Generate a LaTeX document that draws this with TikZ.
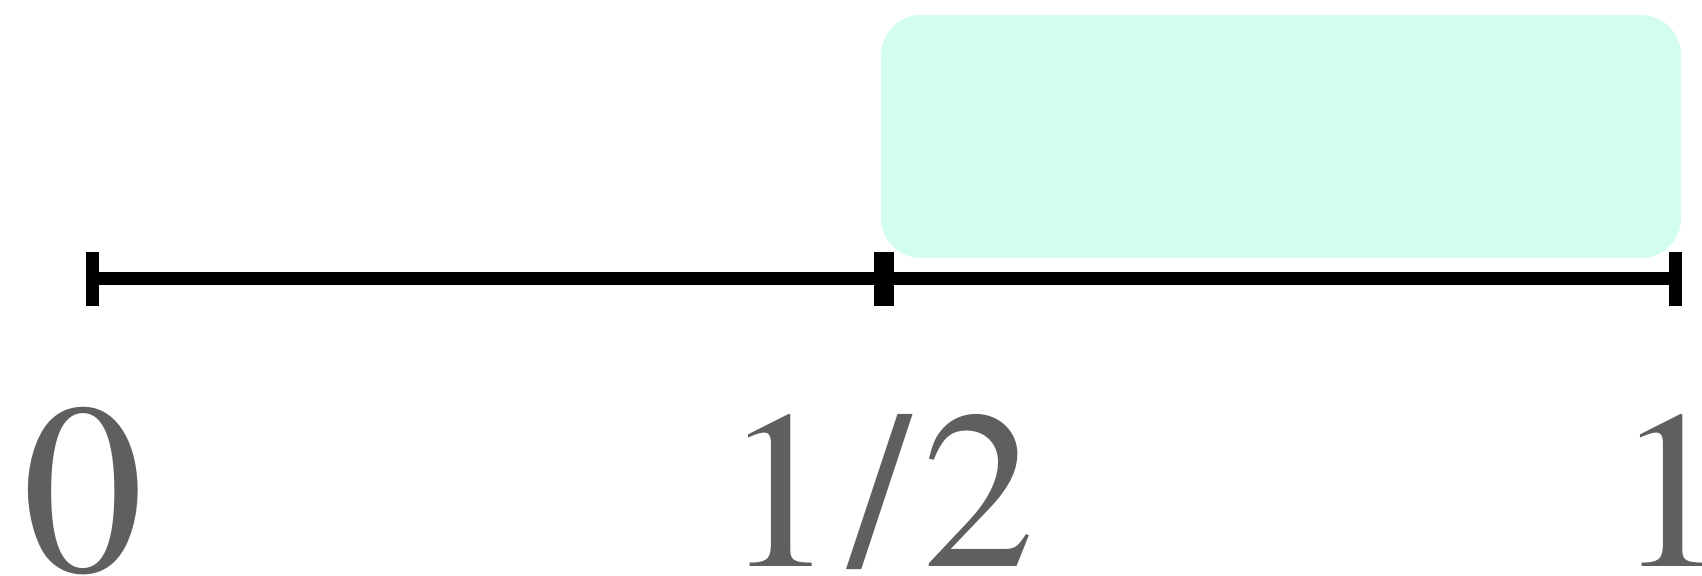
\documentclass[tikz,border=0pt]{standalone}
\definecolor{mint}{HTML}{D3FDEF}
\definecolor{labelgray}{HTML}{5F5F5F}
\newcommand{\timesfont}{\usefont{OT1}{ptm}{m}{n}}
\tikzset{
  axisline/.style={line width=6.5pt, line cap=butt},
  tickmark/.style={line width=6.5pt, line cap=butt},
  hlbox/.style={fill=mint, draw=none, rounded corners=20pt, minimum width=400pt, minimum height=121.5pt, inner sep=0pt},
  lbl/.style={text=labelgray, inner sep=0pt, anchor=base west},
}
\begin{document}
\begin{tikzpicture}[x=0.5pt, y=-0.5pt]
\useasboundingbox (0,0) rectangle (1702,576);
% highlighted box
\node[hlbox] (hl) at (1281,136.5) {};
% tick positions
\coordinate (p0) at (92.5,278.6);
\coordinate (ha) at (880,278.6);
\coordinate (hb) at (887.5,278.6);
\coordinate (p1) at (1675,278.6);
% axis
\draw[axisline] (p0) -- (ha);
\draw[axisline] (hb) -- (p1);
\foreach \c in {p0,ha,hb,p1}
  \draw[tickmark] ([yshift=13.5pt]\c) -- ([yshift=-13.5pt]\c);
% labels
\node[lbl, font=\timesfont\fontsize{121.5}{130}\selectfont] (l0) at (22,571.5) {0};
\node[lbl, font=\timesfont\fontsize{112.5}{120}\selectfont] (lh) at (723,566.5) {1\kern6.5pt/\kern5.5pt2};
\node[lbl, font=\timesfont\fontsize{112.5}{120}\selectfont] (l1) at (1615,566.5) {1};
\end{tikzpicture}
\end{document}
